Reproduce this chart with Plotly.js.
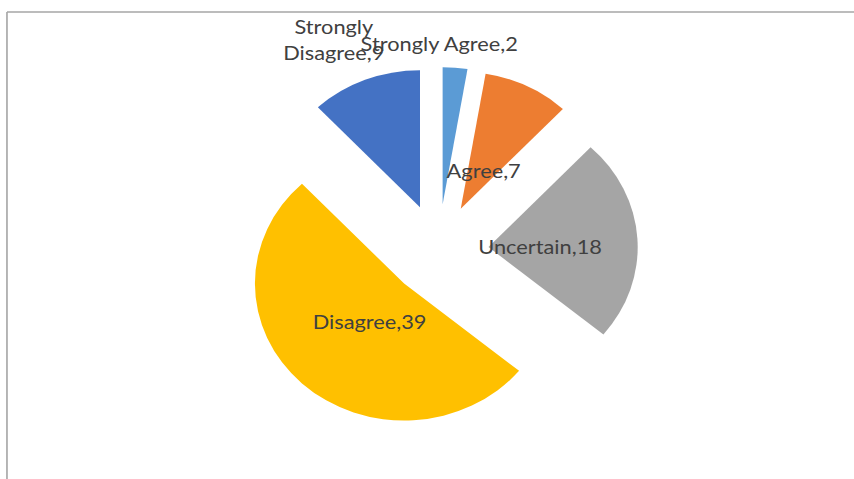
<!DOCTYPE html>
<html>
<head>
<meta charset="utf-8">
<script src="https://cdn.plot.ly/plotly-3.0.1.min.js"></script>
<style>
html,body{margin:0;padding:0;background:#fff;overflow:hidden;}
#wrap{width:854px;height:479px;overflow:hidden;}
#chart{width:784px;height:479px;transform:scaleX(1.08929);transform-origin:0 0;}
</style>
</head>
<body>
<div id="wrap"><div id="chart"></div></div>
<script>
var categories = ["Strongly Agree", "Agree", "Uncertain", "Disagree", "Strongly Disagree"];
var values = [2, 7, 18, 39, 9];
var labelText = ["Strongly Agree,2", "Agree,7", "Uncertain,18", "Disagree,39", "Strongly<br>Disagree,9"];
var colors = ["#5B9BD5", "#ED7D31", "#A5A5A5", "#FFC000", "#4472C4"];
// label placement (radius units from pie centre, angle shift in degrees)
var labelDist = [1.51, 0.66, 0.68, 0.69, 1.69];
var labelShift = [-4.6, 0.7, 1.1, -1.7, -2.9];

var W = 784, H = 479;
var pull = 0.336;
var domX = [219.5 / W, 585.5 / W];
var domY = [1 - 433 / H, 1 - 67 / H];

var cx = W * (domX[0] + domX[1]) / 2;
var cy = H * (1 - (domY[0] + domY[1]) / 2);
var r = Math.min(W * (domX[1] - domX[0]), H * (domY[1] - domY[0])) / (2 * (1 + pull));

var total = values.reduce(function (a, b) { return a + b; }, 0);
var annotations = [];
var cum = 0;
for (var i = 0; i < values.length; i++) {
  var mid = (cum + values[i] / 2) / total * 2 * Math.PI + labelShift[i] * Math.PI / 180;
  cum += values[i];
  var d = labelDist[i] * r;
  var px = cx + d * Math.sin(mid);
  var py = cy - d * Math.cos(mid);
  annotations.push({
    xref: "paper", yref: "paper",
    x: px / W, y: 1 - py / H,
    text: labelText[i], showarrow: false,
    xanchor: "center", yanchor: "middle", align: "center",
    font: {family: "Lato, 'Open Sans', sans-serif", size: 20, color: "#404040"}
  });
}

var trace = {
  type: "pie",
  labels: categories,
  values: values,
  sort: false,
  direction: "clockwise",
  rotation: 0,
  pull: pull,
  textinfo: "none",
  hoverinfo: "label+value",
  marker: {colors: colors, line: {width: 0}},
  domain: {x: domX, y: domY},
  showlegend: false
};

var layout = {
  width: W, height: H,
  margin: {l: 0, r: 0, t: 0, b: 0},
  paper_bgcolor: "#ffffff",
  showlegend: false,
  annotations: annotations,
  shapes: [
    {type: "line", xref: "paper", yref: "paper", x0: 6.4 / W, x1: 1, y0: 1 - 12 / H, y1: 1 - 12 / H, line: {color: "#a6a6a6", width: 1.5}},
    {type: "line", xref: "paper", yref: "paper", x0: 6.4 / W, x1: 6.4 / W, y0: 0, y1: 1 - 12 / H, line: {color: "#a6a6a6", width: 1.5}}
  ]
};

Plotly.newPlot("chart", [trace], layout, {displayModeBar: false, staticPlot: true});
</script>
</body>
</html>
